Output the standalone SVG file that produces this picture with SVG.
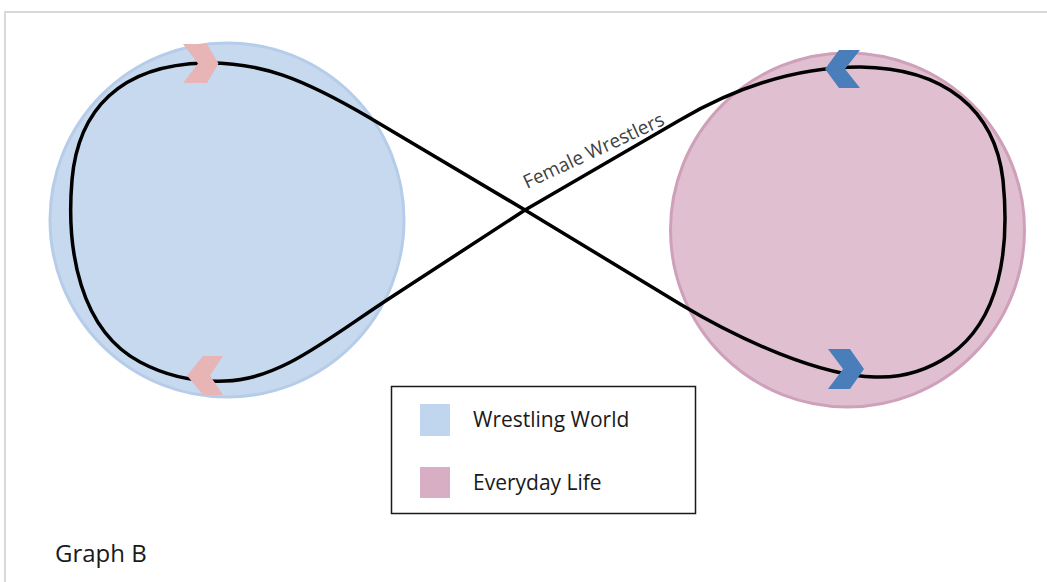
<svg xmlns="http://www.w3.org/2000/svg" width="1047" height="582" viewBox="0 0 1047 582">
<style>
.lbl{font-family:"Open Sans","Liberation Sans",sans-serif;fill:#1a1a1a}
.chev-p{fill:#e8b5b7}
.chev-b{fill:#4a7ebb}
</style>
<rect width="1047" height="582" fill="#ffffff"/>
<path d="M5,582 V12 H1047" fill="none" stroke="#d9d9d9" stroke-width="2"/>
<g id="wrestling-world">
<circle cx="227" cy="220" r="177" fill="#c6d9ef" stroke="#b6cde9" stroke-width="3"/>
</g>
<g id="everyday-life">
<circle cx="847.5" cy="230" r="177" fill="#e0bfd0" stroke="#cfa0b9" stroke-width="3"/>
</g>
<g id="connectors">
<path d="M525,210 L370,118 C302,78 260,62 205,63 C120,65 78,110 72,180 C66,250 80,330 140,362 C170,378 200,382 225,381 C280,380 330,337 390,298 L525,210 L680,120 C740,85 800,67 860,67 C945,68 995,110 1003,180 C1010,250 1000,320 950,355 C925,372 900,378 875,377 C820,376 740,340 680,304 Z" fill="none" stroke="#000000" stroke-width="3.5" stroke-linejoin="round"/>
<polygon class="chev-p" points="183,44 207,44 218.5,63.5 207,83 183,83 198,63.5"/>
<polygon class="chev-p" points="223,356 203,356 187,375.5 203,395 223,395 210,375.5"/>
<polygon class="chev-b" points="860,50 839,50 825,69 839,88 860,88 845,69"/>
<polygon class="chev-b" points="828,349 850,349 864,369 850,389 828,389 843,369"/>
</g>
<g id="edge-label">
<text x="527" y="189" transform="rotate(-25 527 189)" font-family="Open Sans, Liberation Sans, sans-serif" font-size="19" fill="#404040">Female Wrestlers</text>
</g>
<g id="legend">
<rect x="391.5" y="386.5" width="304" height="127" fill="#ffffff" stroke="#1a1a1a" stroke-width="1.5"/>
<rect x="420" y="404" width="30" height="32" fill="#c0d6ee"/>
<text class="lbl" x="473" y="427" font-size="21">Wrestling World</text>
<rect x="420" y="467" width="30" height="31" fill="#d8aec4"/>
<text class="lbl" x="473" y="490" font-size="21">Everyday Life</text>
</g>
<g id="caption">
<text class="lbl" x="55" y="562" font-size="24">Graph B</text>
</g>
</svg>
